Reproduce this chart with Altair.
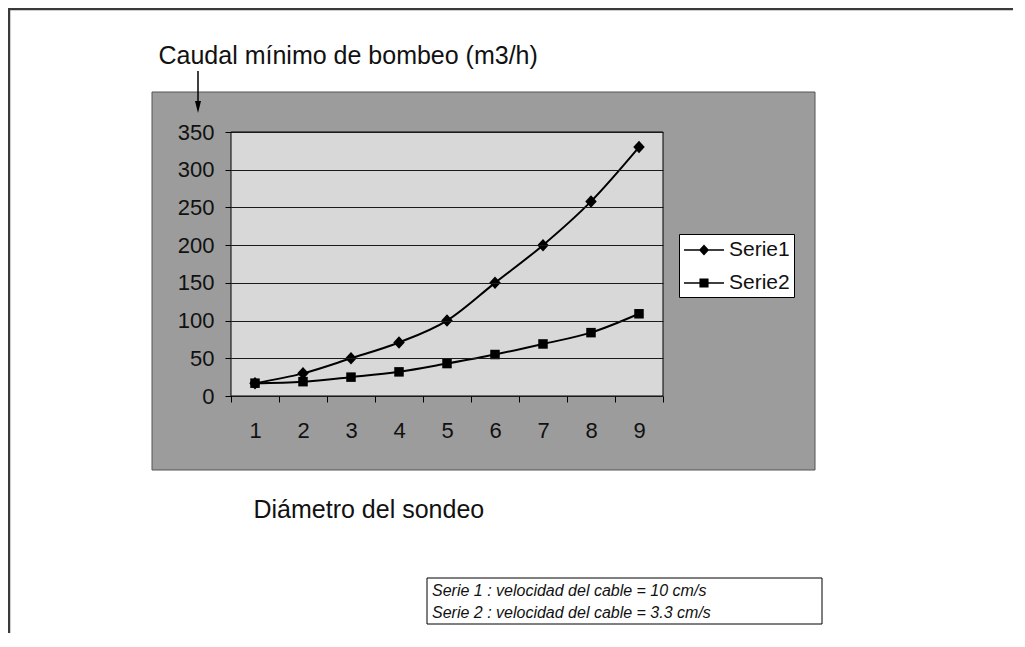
import altair as alt
import pandas as pd

# ---------------- data ----------------
diametro = [1, 2, 3, 4, 5, 6, 7, 8, 9]
serie1 = [17, 30, 50, 71, 100, 150, 200, 258, 330]
serie2 = [17, 19, 25, 32, 43, 55, 69, 84, 109]
series = ["Serie1", "Serie2"]
y_ticks = [0, 50, 100, 150, 200, 250, 300, 350]
titulo_y = "Caudal mínimo de bombeo (m3/h)"
titulo_x = "Diámetro del sondeo"
notas = ["Serie 1 : velocidad del cable = 10 cm/s",
         "Serie 2 : velocidad del cable = 3.3 cm/s"]

FONT = "Liberation Sans"

df = pd.DataFrame({
    "diametro": diametro + diametro,
    "valor": serie1 + serie2,
    "serie": [series[0]] * len(diametro) + [series[1]] * len(diametro),
})
one = pd.DataFrame({"k": [0]})

# ---------------- encodings ----------------
x_enc = alt.X(
    "diametro:O",
    scale=alt.Scale(type="band", paddingInner=0, paddingOuter=0),
    axis=alt.Axis(
        title=titulo_x, titleX=22, titleY=121, titleAlign="left",
        titleBaseline="alphabetic", titleFontSize=25, titleFontWeight="normal",
        titleFont=FONT, titleColor="#111111",
        labelAngle=0, labelFontSize=22, labelFont=FONT, labelColor="#111111",
        labelPadding=18, tickBand="extent", tickSize=6, tickColor="black",
        domain=False, grid=False, zindex=1,
    ),
)
y_enc = alt.Y(
    "valor:Q",
    scale=alt.Scale(domain=[0, 350], nice=False),
    axis=alt.Axis(
        values=y_ticks, title=titulo_y, titleAngle=0, titleX=-73, titleY=-69,
        titleAlign="left", titleBaseline="alphabetic", titleFontSize=25,
        titleFontWeight="normal", titleFont=FONT, titleColor="#111111",
        labelFontSize=22, labelFont=FONT, labelColor="#111111", labelPadding=11,
        tickSize=6, tickColor="black", grid=True, gridColor="#1a1a1a",
        gridWidth=1, domain=False, zindex=1,
    ),
)

# ---------------- decorations ----------------
frame = alt.Chart(one).mark_rect(fill=None, stroke="#3a3a3a", strokeWidth=2.5).encode(
    x=alt.value(-222), x2=alt.value(800), y=alt.value(-123), y2=alt.value(560)
)
outer = alt.Chart(one).mark_rect(fill="#9c9c9c", stroke="#555555", strokeWidth=1).encode(
    x=alt.value(-79), x2=alt.value(584), y=alt.value(-40), y2=alt.value(338)
)
plotbg = alt.Chart(one).mark_rect(fill="#d8d8d8", stroke="black", strokeWidth=1).encode(
    x=alt.value(0), x2=alt.value("width"), y=alt.value(0), y2=alt.value("height")
)
notebox = alt.Chart(one).mark_rect(fill="white", stroke="black", strokeWidth=1).encode(
    x=alt.value(196), x2=alt.value(591), y=alt.value(446), y2=alt.value(492)
)
notetext = alt.Chart(one).mark_text(
    text="\n".join(notas), lineBreak="\n", lineHeight=22, fontSize=16,
    fontStyle="italic", font=FONT, align="left", baseline="alphabetic",
    color="#111111",
).encode(x=alt.value(201), y=alt.value(464))

arrow_line = alt.Chart(one).mark_rule(color="black", strokeWidth=1.5).encode(
    x=alt.value(-33), y=alt.value(-61), y2=alt.value(-26)
)
arrow_head = alt.Chart(one).mark_point(
    shape="M0,1L-0.5,-1L0.5,-1Z", filled=True, color="black", opacity=1, size=144
).encode(x=alt.value(-33), y=alt.value(-25))

# ---------------- data layers ----------------
lines = alt.Chart(df).mark_line(
    interpolate="monotone", color="black", strokeWidth=2
).encode(x=x_enc, y=y_enc, detail="serie:N")

point_paths = [
    "M0,-1.25L1.15,0L0,1.25L-1.15,0Z",
    "M-0.95,-0.95L0.95,-0.95L0.95,0.95L-0.95,0.95Z",
]
points = alt.Chart(df).mark_point(filled=True, color="black", opacity=1, size=100).encode(
    x=x_enc, y=y_enc,
    shape=alt.Shape("serie:N", scale=alt.Scale(domain=series, range=point_paths),
                    legend=None),
)

# legend symbols: line segment with the series marker (scale factor 12 px/unit)
legend_paths = [
    "M-1.667,-0.067L1.667,-0.067L1.667,0.067L-1.667,0.067Z M0,-0.45L0.42,0L0,0.45L-0.42,0Z",
    "M-1.667,-0.067L1.667,-0.067L1.667,0.067L-1.667,0.067Z M-0.38,-0.38L0.38,-0.38L0.38,0.38L-0.38,0.38Z",
]
ghost = alt.Chart(df).mark_point(filled=True, color="black", opacity=0, size=576).encode(
    x=x_enc, y=y_enc,
    shape=alt.Shape(
        "serie:N",
        scale=alt.Scale(domain=series, range=legend_paths),
        legend=alt.Legend(
            title=None, orient="none", legendX=448, legendY=102,
            fillColor="white", strokeColor="black", padding=4,
            symbolSize=576, symbolOpacity=1, symbolFillColor="black",
            symbolStrokeColor="black", symbolStrokeWidth=0, symbolOffset=9,
            labelFontSize=21, labelFont=FONT, labelColor="#111111",
            labelOffset=13, rowPadding=11,
        ),
    ),
)

chart = alt.layer(
    frame, outer, plotbg, notebox, notetext, lines, points, ghost, arrow_line, arrow_head
).resolve_scale(shape="independent").properties(
    width=432, height=264,
    autosize=alt.AutoSizeParams(type="none"),
    padding={"left": 223, "top": 124, "right": 350, "bottom": 237},
    background="white",
).configure_view(stroke=None)

chart.save("out.html", embed_options={"renderer": "svg", "actions": False})
